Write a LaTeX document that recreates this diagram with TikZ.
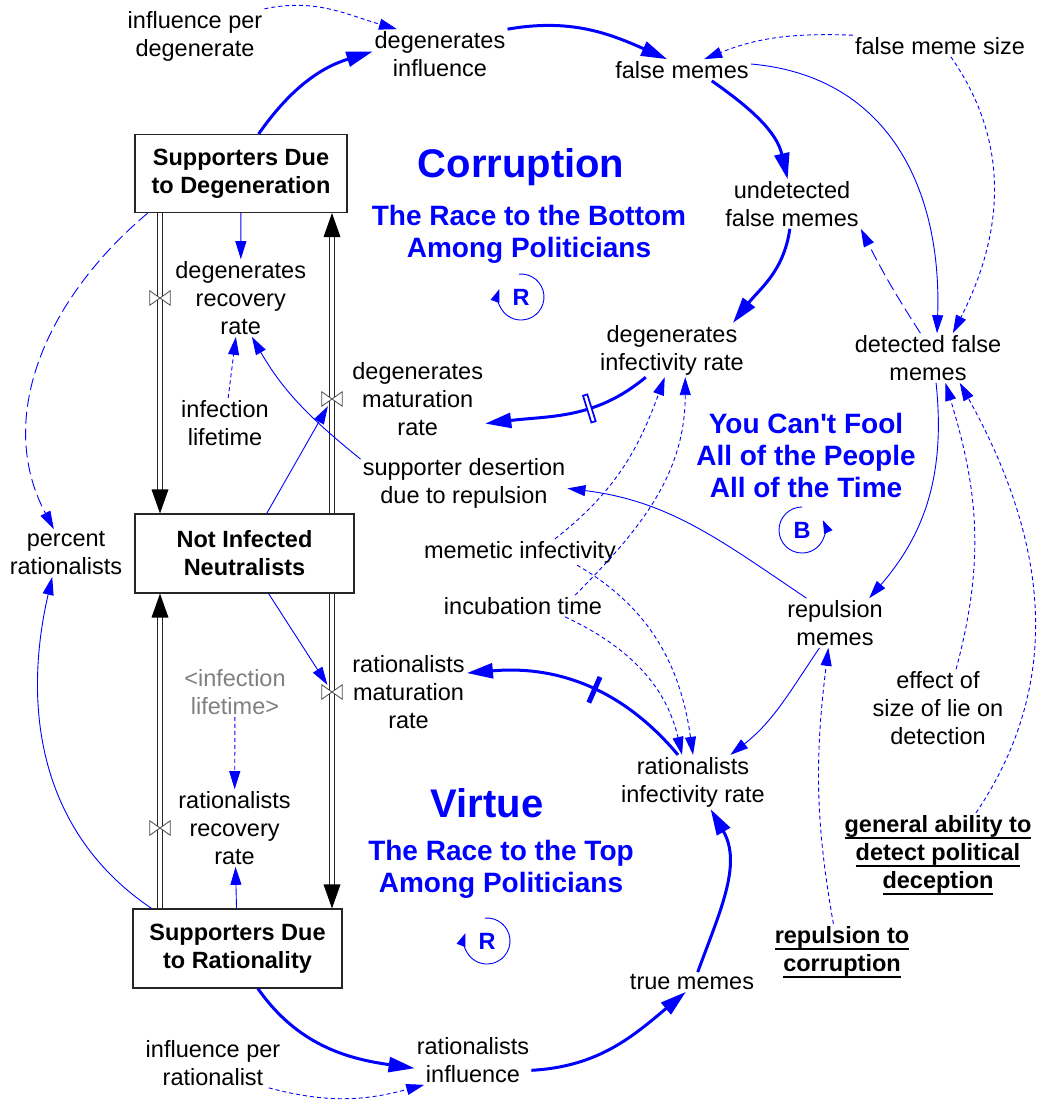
\documentclass[tikz,border=0pt]{standalone}
\usepackage{fontspec}
\setmainfont{Liberation Sans}
\usetikzlibrary{positioning, arrows.meta}
\definecolor{shadowgray}{RGB}{128,128,128}
\newcommand{\thickul}[1]{\setbox0\hbox{#1}\leavevmode\rlap{\rule[-7pt]{\wd0}{1.8pt}}\box0}
\tikzset{
	stock/.style={
		rectangle,
		draw=black!85,
		line width=1.1pt,
		align=center,
		inner sep=0pt,
		minimum height=78pt,
		font=\fontsize{23.5}{28}\selectfont\bfseries,
	},
	aux/.style={
		align=center,
		inner sep=2pt,
		font=\fontsize{23.5}{28}\selectfont,
	},
	const/.style={
		aux,
		font=\fontsize{23.5}{28}\selectfont\bfseries,
	},
	title/.style={
		align=center,
		text=blue,
		font=\fontsize{28}{32}\selectfont\bfseries,
	},
	bigtitle/.style={
		text=blue,
		font=\fontsize{40}{44}\selectfont\bfseries,
	},
	loopname/.style={
		text=blue,
		inner sep=0pt,
		font=\fontsize{23.5}{28}\selectfont\bfseries,
	},
	valve/.style={
		rectangle,
		inner sep=0pt,
		minimum width=20pt,
		minimum height=14pt,
	},
	pipe/.style={
		draw=black!85,
		double distance=3.5pt,
		line width=0.9pt,
		shorten >=22pt,
	},
	link/.style={
		blue,
		line width=0.9pt,
		-{Triangle[length=18pt,width=11pt]},
	},
	info/.style={
		link,
		dash pattern=on 4pt off 3pt,
	},
	longdash/.style={
		link,
		dash pattern=on 12pt off 5pt,
	},
	flow/.style={
		blue,
		line width=3pt,
		-{Triangle[length=26pt,width=15pt]},
	},
	delay1/.style={
		sloped,
		fill=blue,
		inner sep=0pt,
		minimum width=5pt,
		minimum height=28pt,
	},
	delay2/.style={
		sloped,
		draw=blue,
		fill=white,
		line width=1.7pt,
		inner sep=0pt,
		minimum width=4.5pt,
		minimum height=28pt,
	},
	loopmark/.style={
		blue,
		line width=0.9pt,
		-{Triangle[length=13pt,width=9pt]},
	},
}

\begin{document}
\begin{tikzpicture}[x=1pt, y=1pt]
		\fill[white] (0,0) rectangle (1037,-1104);
		\useasboundingbox (0,0) rectangle (1037,-1104);

		% Place stocks and valves
		\node[stock, minimum width=212pt] (sd) at (241,-173.5) {Supporters Due\\to Degeneration};
		\node[stock, minimum width=219pt, minimum height=79pt] (nin) at (244.5,-553.5) {Not Infected\\Neutralists};
		\node[stock, minimum width=209pt, minimum height=79pt] (sr) at (237.5,-948.5) {Supporters Due\\to Rationality};

		\node[valve] (v1) at (160,-298) {};
		\node[valve] (v2) at (332,-399) {};
		\node[valve] (v3) at (332,-692) {};
		\node[valve] (v4) at (160,-828) {};

		% Pipes
		\draw[pipe] (sd.south -| v1) -- (nin.north -| v1);
		\draw[pipe] (nin.north -| v2) -- (sd.south -| v2);
		\draw[pipe] (nin.south -| v3) -- (sr.north -| v3);
		\draw[pipe] (sr.north -| v4) -- (nin.south -| v4);
		\fill[black] (nin.north -| v1) -- ++(-8.5,24) -- ++(17,0) -- cycle;
		\fill[black] (sd.south -| v2) -- ++(-8.5,-24) -- ++(17,0) -- cycle;
		\fill[black] (sr.north -| v3) -- ++(-8.5,24) -- ++(17,0) -- cycle;
		\fill[black] (nin.south -| v4) -- ++(-8.5,-24) -- ++(17,0) -- cycle;
		\foreach \v in {v1,v2,v3,v4}
			\draw[black!70, fill=white, line width=0.8pt] (\v.south west) -- (\v.north west) -- (\v.south east) -- (\v.north east) -- cycle;

		% Place variables
		\node[aux] (ipd) at (195,-36) {influence per\\degenerate};
		\node[aux] (dinf) at (440,-54) {degenerates\\influence};
		\node[aux] (fm) at (682,-70) {false memes};
		\node[aux] (fms) at (940,-46) {false meme size};
		\node[aux] (ufm) at (792,-204) {undetected\\false memes};
		\node[aux] (dir) at (672,-350) {degenerates\\infectivity rate};
		\node[aux] (dfm) at (928,-358) {detected false\\memes};
		\node[aux, right=3pt of v1] (drr) {degenerates\\recovery\\rate};
		\node[aux, right=8pt of v2] (dmr) {degenerates\\maturation\\rate};
		\node[aux] (il) at (225,-423) {infection\\lifetime};
		\node[aux] (sdr) at (464,-483) {supporter desertion\\due to repulsion};
		\node[aux] (pr) at (66,-553) {percent\\rationalists};
		\node[aux] (mi) at (520,-552) {memetic infectivity};
		\node[aux] (it) at (523,-606) {incubation time};
		\node[aux] (rm) at (835,-623) {repulsion\\memes};
		\node[aux, right=8pt of v3] (rmr) {rationalists\\maturation\\rate};
		\node[aux, text=shadowgray] (il2) at (235,-692) {<infection\\lifetime>};
		\node[aux] (eff) at (938,-708) {effect of\\size of lie on\\detection};
		\node[aux] (rir) at (693,-782) {rationalists\\infectivity rate};
		\node[aux, right=6pt of v4] (rrr) {rationalists\\recovery\\rate};
		\node[const] (gen) at (938,-855) {\thickul{general ability to}\\\thickul{detect political}\\\thickul{deception}};
		\node[const] (rtc) at (842,-952) {\thickul{repulsion to}\\\thickul{corruption}};
		\node[aux] (tm) at (692,-982) {true memes};
		\node[aux] (rinf) at (473,-1060) {rationalists\\influence};
		\node[aux] (ipr) at (213,-1063) {influence per\\rationalist};

		% Loop titles
		\node[bigtitle] (corr) at (521,-167) {Corruption};
		\node[title] (bottom) at (529,-234) {The Race to the Bottom\\Among Politicians};
		\node[title] (fool) at (806,-455) {You Can\textquotesingle t Fool\\All of the People\\All of the Time};
		\node[bigtitle] (virt) at (487,-803) {Virtue};
		\node[title] (top) at (501,-869) {The Race to the Top\\Among Politicians};

		\node[loopname] (r1) at (521,-297) {R};
		\node[loopname] (b1) at (802,-530) {B};
		\node[loopname] (r2) at (487,-941) {R};
		\draw[loopmark] ([shift={(95:23)}]r1.center) arc[start angle=95, end angle=-200, radius=23];
		\draw[loopmark] ([shift={(90:23)}]b1.center) arc[start angle=90, end angle=385, radius=23];
		\draw[loopmark] ([shift={(95:23)}]r2.center) arc[start angle=95, end angle=-200, radius=23];

		% Links
		\draw[flow] (sd.66) to[out=55, in=197] (dinf.178);
		\draw[flow] (dinf.north east) to[out=10, in=156] (fm.144);
		\draw[info] (ipd.north east) to[out=12, in=164] (dinf.150);
		\draw[info] (fms.north west) to[out=178, in=22] (fm.26);
		\draw[flow] (fm.-20) to[out=-35, in=103] (ufm.100);
		\draw[link] (fm.5) to[out=-5, in=88, looseness=1.1] (dfm.70);
		\draw[info] (fms.-45) to[out=-55, in=63] (dfm.45);
		\draw[longdash] (dfm.107) to[bend left=3] (ufm.south east);
		\draw[flow] (ufm.-95) to[out=-98, in=52] (dir.24);
		\draw[flow] (dir.-134) to[out=-140, in=7] node[delay2, pos=0.38] {} (dmr.-20);
		\draw[link] (sd) -- (drr);
		\draw[info] (il) -- (drr);
		\draw[link] (sdr.167) to[out=141, in=-60] (drr.-74);
		\draw[link] (nin.61) -- (v2);
		\draw[longdash] (sd.203) to[out=220, in=118] (pr.117);
		\draw[link] (sr.155) to[out=146, in=-103] (pr.-120);
		\draw[link] (nin.-59) -- (v3);
		\draw[info] (il2) -- (rrr);
		\draw[link] (sr) -- (rrr);
		\draw[flow] (sr.-63) to[out=-55, in=172] (rinf.188);
		\draw[info] (ipr.-24) to[out=-15, in=195] (rinf.207);
		\draw[flow] (rinf.-10) to[out=3, in=220] (tm.238);
		\draw[flow] (tm.60) to[out=70, in=-60] (rir.-57);
		\draw[flow] (rir.119) to[out=130, in=5] node[delay1, pos=0.45] {} (rmr.18);
		\draw[info] ([xshift=57pt]mi.south) to[out=-30, in=98] (rir.north);
		\draw[info] ([xshift=42pt]it.south) to[out=-25, in=103] (rir.112);
		\draw[info] ([xshift=35pt]mi.north) to[out=38, in=-110] (dir.-105);
		\draw[info] ([xshift=52pt]it.north) to[out=45, in=-90] (dir.-64);
		\draw[link] (rm.139) to[out=146, in=-7] (sdr.-3);
		\draw[link] (dfm.-72) to[out=-84, in=49] (rm.36);
		\draw[link] (rm.-122) to[out=-124, in=38] (rir.36);
		\draw[info] (rtc.107) to[out=100, in=-97] (rm.-105);
		\draw[info] (eff.65) to[out=75, in=-73] (dfm.-55);
		\draw[info] (gen.48) to[out=56, in=-61] (dfm.-38);

\end{tikzpicture}
\end{document}
